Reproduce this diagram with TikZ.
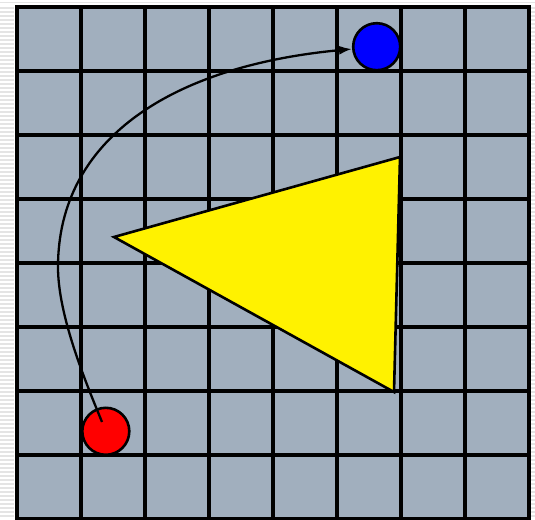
\documentclass[tikz,border=0pt]{standalone}
\usetikzlibrary{arrows.meta}
\definecolor{cellfill}{RGB}{161,175,190}
\definecolor{stripe}{RGB}{228,228,228}
\tikzset{
  gridline/.style={line width=3.2pt, black},
  ball/.style={circle, draw=black, line width=2.6pt, minimum size=47pt, inner sep=0pt},
  tri/.style={draw=black, fill=yellow, line width=2.6pt, line join=miter},
  path/.style={line width=2.3pt, -{Latex[length=13pt,width=9pt]}}
}
\begin{document}
\begin{tikzpicture}[x=1pt,y=-1pt]
\useasboundingbox (0,0) rectangle (535,519);
\fill[white] (0,0) rectangle (535,519);
% margin stripes
\foreach \y in {8,12,...,519} {
  \draw[stripe, line width=1.5pt] (0,\y) -- (14,\y);
  \draw[stripe, line width=1.5pt] (531,\y) -- (535,\y);
}
\draw[stripe, line width=1.5pt] (0,2.5) -- (535,2.5);
% board
\fill[cellfill] (17,7) rectangle (529,522);
\foreach \i in {0,...,8} {
  \draw[gridline] ({17+64*\i},5.4) -- ({17+64*\i},522);
  \draw[gridline] (15.4,{7+64*\i}) -- (530.6,{7+64*\i});
}
% triangle
\draw[tri] (114,237) -- (400,157) -- (394,392) -- cycle;
% balls
\node[ball, fill=red] (red) at (105.8,431.3) {};
\node[ball, fill=blue] (blue) at (376.7,46.7) {};
\coordinate (s) at (102,422);
\coordinate (m) at (58,267);
\draw[path] (s) .. controls (87,385) and (58,317) .. (m)
  .. controls (58,140) and (170,66) .. (blue);
\end{tikzpicture}
\end{document}
